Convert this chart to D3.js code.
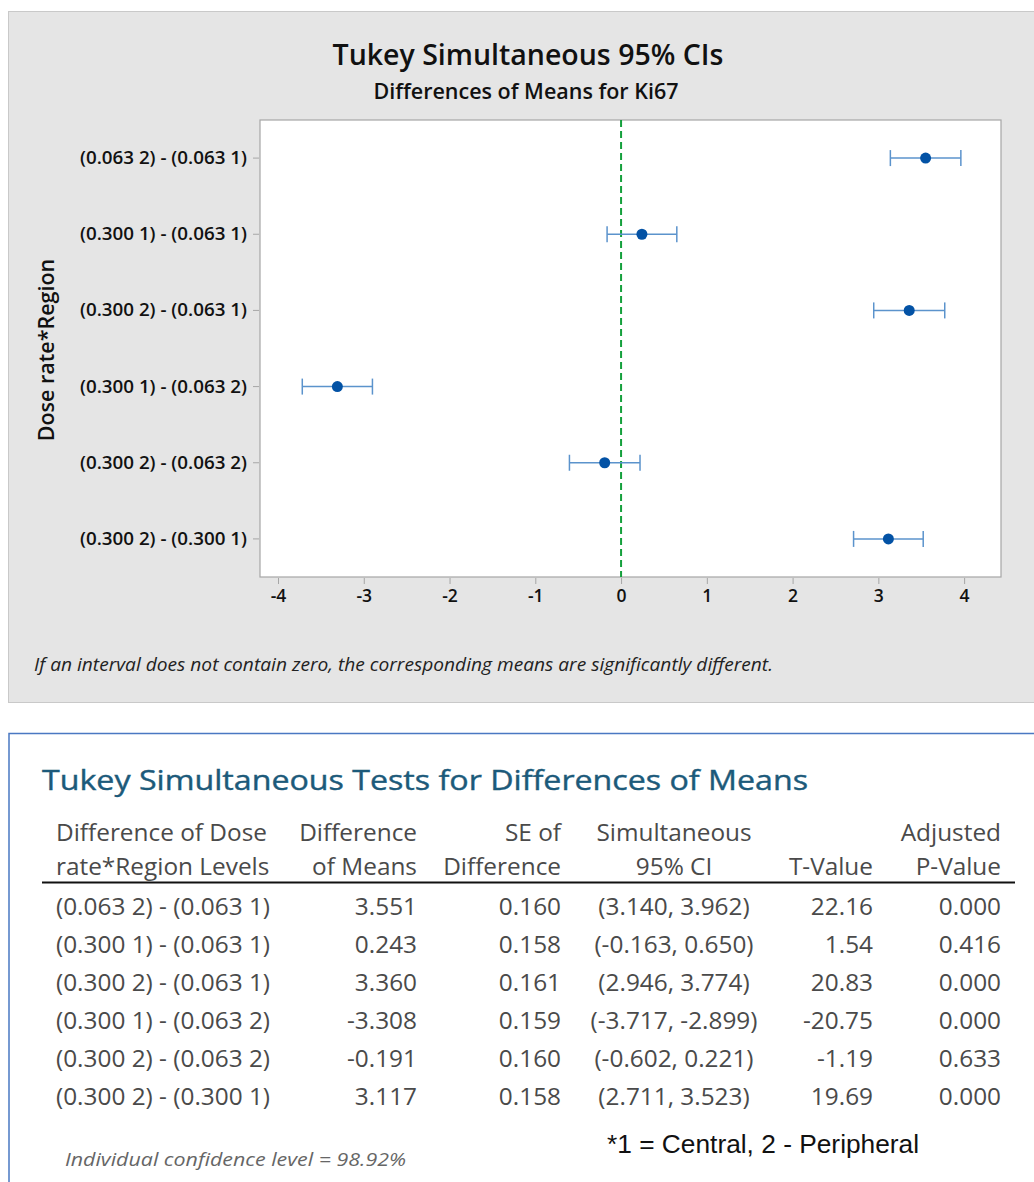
<!DOCTYPE html>
<html>
<head>
<meta charset="utf-8">
<script src="https://cdn.jsdelivr.net/npm/d3@7"></script>
<style>
  body { margin: 0; background: #ffffff; }
  svg { display: block; }
</style>
</head>
<body>
<svg id="chart" width="1034" height="1182"></svg>
<script>
// ---------------- data ----------------
const comparisons = [
  "(0.063 2) - (0.063 1)",
  "(0.300 1) - (0.063 1)",
  "(0.300 2) - (0.063 1)",
  "(0.300 1) - (0.063 2)",
  "(0.300 2) - (0.063 2)",
  "(0.300 2) - (0.300 1)"
];
const diffMeans = [3.551, 0.243, 3.360, -3.308, -0.191, 3.117];
const seDiff    = [0.160, 0.158, 0.161, 0.159, 0.160, 0.158];
const ciLower   = [3.140, -0.163, 2.946, -3.717, -0.602, 2.711];
const ciUpper   = [3.962, 0.650, 3.774, -2.899, 0.221, 3.523];
const tValues   = [22.16, 1.54, 20.83, -20.75, -1.19, 19.69];
const pValues   = [0.000, 0.416, 0.000, 0.000, 0.633, 0.000];
const xTicks    = [-4, -3, -2, -1, 0, 1, 2, 3, 4];
const xDomain   = [-4.21, 4.43];
const chartTitle = "Tukey Simultaneous 95% CIs";
const chartSubtitle = "Differences of Means for Ki67";
const yAxisTitle = "Dose rate*Region";
const chartNote = "If an interval does not contain zero, the corresponding means are significantly different.";
const tableTitle = "Tukey Simultaneous Tests for Differences of Means";
const tableHeaders = [
  ["Difference of Dose", "rate*Region Levels"],
  ["Difference", "of Means"],
  ["SE of", "Difference"],
  ["Simultaneous", "95% CI"],
  ["", "T-Value"],
  ["Adjusted", "P-Value"]
];
const confNote = "Individual confidence level = 98.92%";
const regionNote = "*1 = Central, 2 - Peripheral";

// ---------------- drawing ----------------
const svg = d3.select("#chart");
const F = "'Open Sans', 'Noto Sans', sans-serif";
const hyphen = s => String(s).replace(/\u2212/g, "-");

// chart panel
svg.append("rect").attr("x", 8.5).attr("y", 11.5).attr("width", 1040).attr("height", 691)
  .attr("fill", "#e5e5e5").attr("stroke", "#c9c9c9").attr("stroke-width", 1);

const plot = { left: 260, top: 120, right: 1001, bottom: 577 };
const x = d3.scaleLinear().domain(xDomain).range([plot.left, plot.right]);
const y = d3.scaleBand().domain(comparisons).range([plot.top, plot.bottom]).paddingInner(0).paddingOuter(0);

svg.append("rect").attr("x", plot.left).attr("y", plot.top)
  .attr("width", plot.right - plot.left).attr("height", plot.bottom - plot.top)
  .attr("fill", "#ffffff").attr("stroke", "#a6a6a6").attr("stroke-width", 1.2);

// titles
svg.append("text").attr("x", 528).attr("y", 65).attr("text-anchor", "middle")
  .attr("font-family", F).attr("font-weight", 600).attr("font-size", 28.5).attr("fill", "#111")
  .text(chartTitle);
svg.append("text").attr("x", 526).attr("y", 99).attr("text-anchor", "middle")
  .attr("font-family", F).attr("font-weight", 600).attr("font-size", 21.5).attr("fill", "#111")
  .text(chartSubtitle);

// x axis
const xAxis = d3.axisBottom(x).tickValues(xTicks).tickSize(6).tickPadding(6)
  .tickFormat(d => hyphen(d3.format("d")(d)));
const gx = svg.append("g").attr("transform", `translate(0,${plot.bottom + 1})`).call(xAxis);
gx.select(".domain").remove();
gx.selectAll(".tick line").attr("stroke", "#a6a6a6");
gx.selectAll(".tick text").attr("font-family", F).attr("font-weight", 600).attr("font-size", 17.5).attr("fill", "#111");

// y axis
const yAxis = d3.axisLeft(y).tickSize(6).tickPadding(6);
const gy = svg.append("g").attr("transform", `translate(${plot.left - 1},0)`).call(yAxis);
gy.select(".domain").remove();
gy.selectAll(".tick line").attr("stroke", "#a6a6a6");
gy.selectAll(".tick text").attr("font-family", F).attr("font-weight", 600).attr("font-size", 18.8).attr("fill", "#111");

svg.append("text").attr("transform", "translate(54,350) rotate(-90)").attr("text-anchor", "middle")
  .attr("font-family", F).attr("font-weight", 600).attr("font-size", 21.5).attr("fill", "#111")
  .text(yAxisTitle);

// zero reference line
svg.append("line").attr("x1", x(0)).attr("x2", x(0)).attr("y1", plot.top).attr("y2", plot.bottom)
  .attr("stroke", "#14a03c").attr("stroke-width", 2).attr("stroke-dasharray", "7,4");

// intervals
const rows = comparisons.map((c, i) => ({ c, m: diffMeans[i], lo: ciLower[i], hi: ciUpper[i] }));
const cy = d => y(d.c) + y.bandwidth() / 2;
const g = svg.append("g");
g.selectAll("line.bar").data(rows).join("line").attr("class", "bar")
  .attr("x1", d => x(d.lo)).attr("x2", d => x(d.hi)).attr("y1", cy).attr("y2", cy)
  .attr("stroke", "#5b93cc").attr("stroke-width", 1.5);
g.selectAll("line.capl").data(rows).join("line").attr("class", "capl")
  .attr("x1", d => x(d.lo)).attr("x2", d => x(d.lo)).attr("y1", d => cy(d) - 8).attr("y2", d => cy(d) + 8)
  .attr("stroke", "#5b93cc").attr("stroke-width", 1.5);
g.selectAll("line.capr").data(rows).join("line").attr("class", "capr")
  .attr("x1", d => x(d.hi)).attr("x2", d => x(d.hi)).attr("y1", d => cy(d) - 8).attr("y2", d => cy(d) + 8)
  .attr("stroke", "#5b93cc").attr("stroke-width", 1.5);
g.selectAll("circle").data(rows).join("circle")
  .attr("cx", d => x(d.m)).attr("cy", cy).attr("r", 5.5).attr("fill", "#0352a5");

// note
svg.append("text").attr("x", 34).attr("y", 671)
  .attr("font-family", F).attr("font-style", "italic").attr("font-size", 18).attr("fill", "#222")
  .attr("textLength", 739).attr("lengthAdjust", "spacingAndGlyphs")
  .text(chartNote);

// ---------------- table panel ----------------
svg.append("path").attr("d", "M9,1182 V733.5 H1040")
  .attr("fill", "none").attr("stroke", "#4a78c2").attr("stroke-width", 1.5);

svg.append("text").attr("x", 42).attr("y", 790)
  .attr("font-family", F).attr("font-weight", 400).attr("font-size", 27.5).attr("fill", "#1c5a7a")
  .attr("stroke", "#1c5a7a").attr("stroke-width", 0.4)
  .attr("textLength", 766).attr("lengthAdjust", "spacingAndGlyphs")
  .text(tableTitle);

const tcol = "#4a4a4a";
const TS = 23;        // table font size
const SX = 1.06;      // horizontal stretch of table text
const cols = [
  { x: 56, anchor: "start" },
  { x: 417, anchor: "end" },
  { x: 561, anchor: "end" },
  { x: 674, anchor: "middle" },
  { x: 873, anchor: "end" },
  { x: 1001, anchor: "end" }
];
function cell(xp, yp, anchor, txt) {
  svg.append("text").attr("transform", `translate(${xp},${yp}) scale(${SX},1)`)
    .attr("text-anchor", anchor)
    .attr("font-family", F).attr("font-size", TS).attr("fill", tcol).text(txt);
}
const hdrY = [841, 875];
tableHeaders.forEach((h, ci) => {
  h.forEach((line, li) => {
    if (line) cell(cols[ci].x, hdrY[li], cols[ci].anchor, line);
  });
});
svg.append("line").attr("x1", 42).attr("x2", 1015).attr("y1", 882.5).attr("y2", 882.5)
  .attr("stroke", "#111").attr("stroke-width", 2);

const f3 = d3.format(".3f"), f2 = d3.format(".2f");
const tableRows = comparisons.map((c, i) => [
  c,
  hyphen(f3(diffMeans[i])),
  f3(seDiff[i]),
  "(" + hyphen(f3(ciLower[i])) + ", " + hyphen(f3(ciUpper[i])) + ")",
  hyphen(f2(tValues[i])),
  f3(pValues[i])
]);
const rowY = d3.scaleLinear().domain([0, 1]).range([915, 953]);
tableRows.forEach((r, ri) => {
  r.forEach((v, ci) => cell(cols[ci].x, rowY(ri), cols[ci].anchor, v));
});

svg.append("text").attr("x", 65).attr("y", 1166)
  .attr("font-family", F).attr("font-style", "italic").attr("font-size", 18).attr("fill", "#666")
  .attr("textLength", 341).attr("lengthAdjust", "spacingAndGlyphs")
  .text(confNote);
svg.append("text").attr("x", 607).attr("y", 1153)
  .attr("font-family", "'Liberation Sans', 'Open Sans', sans-serif").attr("font-size", 26.3).attr("fill", "#111")
  .text(regionNote);
</script>
</body>
</html>
